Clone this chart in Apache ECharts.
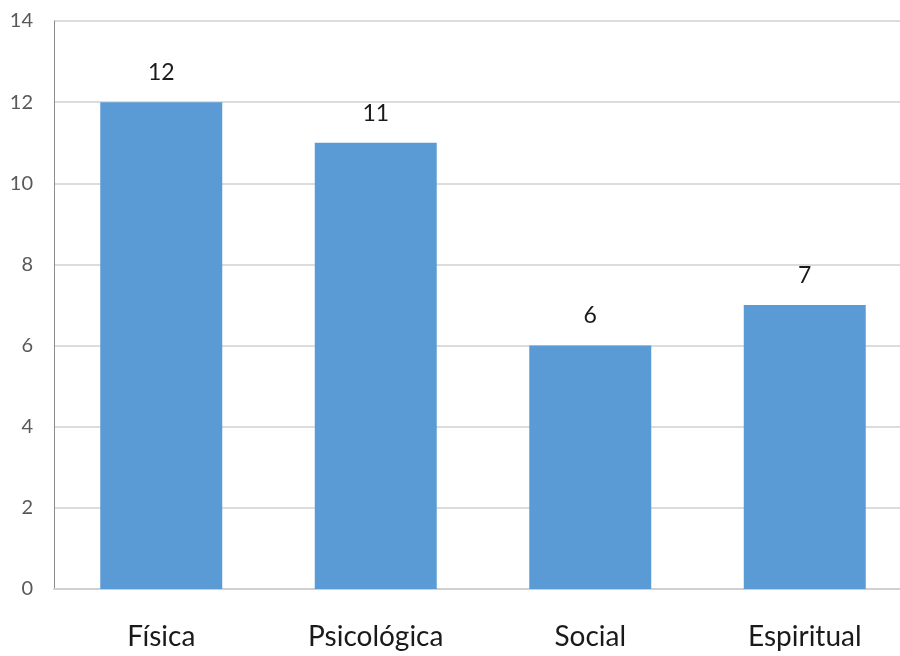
<!DOCTYPE html>
<html>
<head>
<meta charset="utf-8">
<script src="https://cdn.jsdelivr.net/npm/echarts@6/dist/echarts.min.js"></script>
<style>
html, body { margin: 0; padding: 0; background: #fff; }
#main { width: 900px; height: 656px; }
</style>
</head>
<body>
<div id="main"></div>
<script>
var categories = ['Física', 'Psicológica', 'Social', 'Espiritual'];
var values = [12, 11, 6, 7];
var yMin = 0, yMax = 14, yStep = 2;

var myChart = echarts.init(document.getElementById('main'));
var option = {
	animation: false,
	textStyle: { fontFamily: 'Lato' },
	grid: {
		left: 54,
		width: 858,
		top: 21,
		bottom: 67,
		containLabel: false,
		outerBoundsMode: 'none'
	},
	xAxis: {
		type: 'category',
		data: categories,
		axisLine: { show: true, lineStyle: { color: '#d0d0d0', width: 2 } },
		axisTick: { show: false },
		axisLabel: { color: '#1a1a1a', fontSize: 28, margin: 34, fontFamily: 'Lato' }
	},
	yAxis: {
		type: 'value',
		min: yMin,
		max: yMax,
		interval: yStep,
		axisLine: { show: true, lineStyle: { color: '#8c8c8c', width: 1 } },
		axisTick: { show: false },
		splitLine: { lineStyle: { color: '#dcdcdc', width: 2 } },
		axisLabel: { color: '#595959', fontSize: 20, margin: 21, fontFamily: 'Lato' }
	},
	series: [
		{
			type: 'bar',
			data: values,
			barWidth: 122,
			itemStyle: { color: '#5b9bd5' },
			label: {
				show: true,
				position: 'top',
				distance: 18,
				color: '#1a1a1a',
				fontSize: 23,
				fontFamily: 'Lato'
			}
		}
	]
};
myChart.setOption(option);
</script>
</body>
</html>
